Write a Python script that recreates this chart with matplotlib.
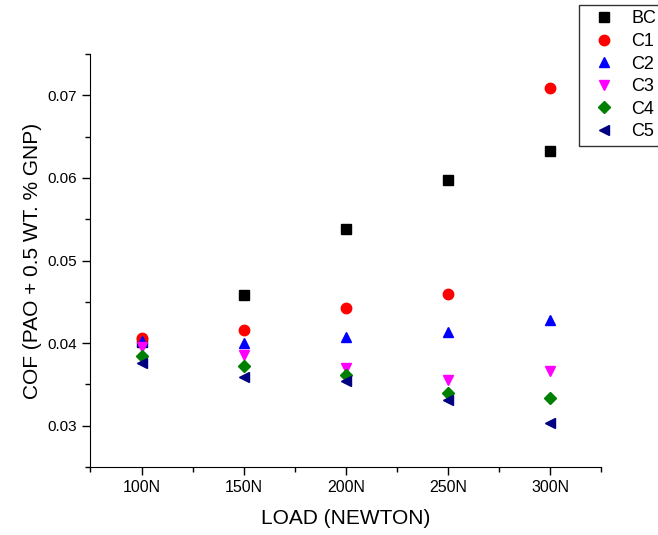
import matplotlib
matplotlib.use('Agg')
import matplotlib.pyplot as plt
from matplotlib.ticker import MultipleLocator

plt.rcParams['font.family'] = ['Liberation Sans', 'DejaVu Sans']

# loads (N) and COF values for each sample
loads = [100, 150, 200, 250, 300]
load_labels = ['100N', '150N', '200N', '250N', '300N']
bc = [0.0401, 0.0458, 0.0538, 0.0597, 0.0633]
c1 = [0.0406, 0.0416, 0.0442, 0.0459, 0.0709]
c2 = [0.0402, 0.0400, 0.0408, 0.0414, 0.0428]
c3 = [0.0395, 0.0386, 0.0370, 0.0355, 0.0366]
c4 = [0.0384, 0.0372, 0.0361, 0.0340, 0.0333]
c5 = [0.0376, 0.0359, 0.0354, 0.0331, 0.0303]

series = [('BC', bc, 's', 'black'),
          ('C1', c1, 'o', 'red'),
          ('C2', c2, '^', 'blue'),
          ('C3', c3, 'v', 'magenta'),
          ('C4', c4, 'D', '#008000'),
          ('C5', c5, '<', '#000080')]

fig = plt.figure(figsize=(6.58, 5.35), dpi=100)
# axes box: x 90.5..601 px, y 54..467 px
ax = fig.add_axes([0.1375, 0.127, 0.776, 0.772])

for name, vals, mk, col in series:
    ms = 6.3 if mk == 'D' else 7.5
    ax.plot(loads, vals, linestyle='none', marker=mk, color=col,
            markersize=ms, label=name)

ax.set_xlim(75, 325)
ax.set_ylim(0.025, 0.075)
ax.set_xticks(loads)
ax.set_xticklabels(load_labels)
ax.xaxis.set_minor_locator(MultipleLocator(25))
ax.yaxis.set_major_locator(MultipleLocator(0.01))
ax.yaxis.set_minor_locator(MultipleLocator(0.005))
ax.tick_params(which='major', direction='out', length=6, width=1, labelsize=11)
ax.tick_params(which='minor', direction='out', length=3.5, width=1)
ax.tick_params(axis='x', which='major', labelsize=11.5)

ax.spines['top'].set_visible(False)
ax.spines['right'].set_visible(False)

ax.set_xlabel('LOAD (NEWTON)', fontsize=15, labelpad=10)
ax.set_ylabel('COF (PAO + 0.5 WT. % GNP)', fontsize=15, labelpad=4)

# legend sits at top right, running off the edge of the figure
leg = fig.legend(loc='upper left', bbox_to_anchor=(579 / 658, 1 - 5 / 535),
                 bbox_transform=fig.transFigure, fontsize=13, frameon=True,
                 fancybox=False, shadow=False, handletextpad=0.4,
                 borderpad=0.3, labelspacing=0.31, handlelength=2.2,
                 borderaxespad=0)
leg.get_frame().set_edgecolor('black')
leg.get_frame().set_linewidth(1)

fig.savefig('out.png', dpi=100)
